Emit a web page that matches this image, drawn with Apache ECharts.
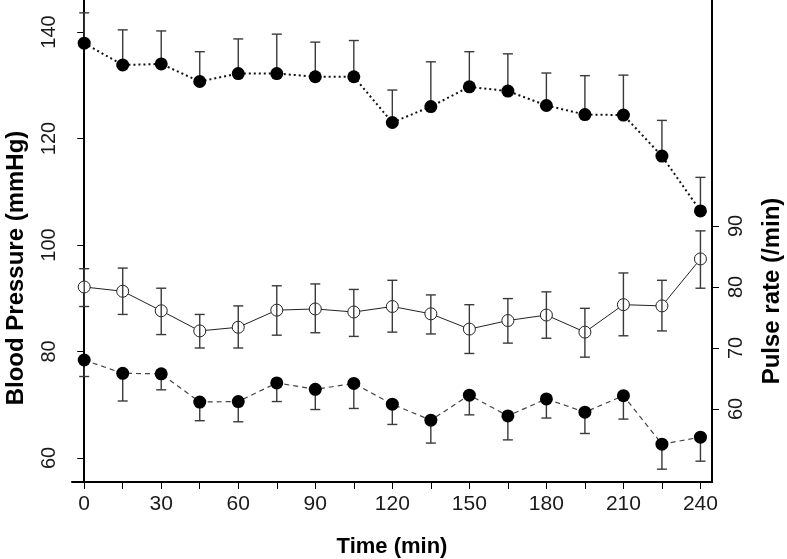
<!DOCTYPE html>
<html>
<head>
<meta charset="utf-8">
<script src="https://cdn.jsdelivr.net/npm/echarts@6/dist/echarts.min.js"></script>
<style>
html,body{margin:0;padding:0;background:#fff;}
#chart{width:787px;height:559px;}
</style>
</head>
<body>
<div id="chart"></div>
<script>
// ---- data ----
const times = [0,15,30,45,60,75,90,105,120,135,150,165,180,195,210,225,240];
const xTickValues = [0,15,30,45,60,75,90,105,120,135,150,165,180,195,210,225,240];
const xLabelValues = [0,30,60,90,120,150,180,210,240];
const bpTickValues = [60,80,100,120,140];
const pulseTickValues = [60,70,80,90];

// systolic blood pressure (mean and upper error)
const systolic      = [137.9,133.8,134.0,130.7,132.2,132.2,131.6,131.6,123.0,126.0,129.7,128.9,126.2,124.5,124.4,116.7,106.4];
const systolicUpper = [143.6,140.4,140.2,136.3,138.7,139.6,138.1,138.4,129.1,134.4,136.3,135.9,132.3,131.8,131.9,123.4,112.7];
// diastolic blood pressure (mean and lower error)
const diastolic      = [78.4,75.9,75.8,70.5,70.6,74.1,72.9,74.0,70.1,67.1,71.8,67.9,71.1,68.6,71.7,62.6,63.9];
const diastolicLower = [75.3,70.7,72.8,67.0,66.8,70.6,69.1,69.3,66.3,62.8,68.1,63.4,67.5,64.6,67.3,57.9,59.4];
// pulse rate (mean, upper, lower)
const pulse      = [80.0,79.3,76.1,72.8,73.4,76.2,76.4,75.9,76.8,75.6,73.1,74.5,75.4,72.6,77.1,76.9,84.6];
const pulseUpper = [83.0,83.1,79.8,75.5,76.9,80.2,80.5,79.6,81.1,78.7,77.1,78.1,79.2,76.5,82.3,81.1,89.2];
const pulseLower = [76.8,75.5,72.2,70.0,70.0,72.1,72.5,71.9,72.6,72.3,69.1,70.8,71.6,68.5,72.0,72.8,79.8];

const FONT = '"Liberation Sans", Arial, sans-serif';
const TXT = '#1a1a1a';

function pairs(xs, ys){ return xs.map((x,i)=>[x, ys[i]]); }
function errData(xs, a, b, capA, capB){ return xs.map((x,i)=>[x, a[i], b[i], capA, capB]); }

function errRender(params, api){
  const x = api.value(0);
  const p1 = api.coord([x, api.value(1)]);
  const p2 = api.coord([x, api.value(2)]);
  const hw = 5;
  const st = {stroke:'#3a3a3a', lineWidth:1.4};
  const ch = [{type:'line', shape:{x1:p1[0],y1:p1[1],x2:p2[0],y2:p2[1]}, style:st}];
  if (api.value(3)) ch.push({type:'line', shape:{x1:p1[0]-hw,y1:p1[1],x2:p1[0]+hw,y2:p1[1]}, style:st});
  if (api.value(4)) ch.push({type:'line', shape:{x1:p2[0]-hw,y1:p2[1],x2:p2[0]+hw,y2:p2[1]}, style:st});
  return {type:'group', children:ch};
}

const chart = echarts.init(document.getElementById('chart'), null, {renderer:'canvas'});
chart.setOption({
  animation:false,
  backgroundColor:'#fff',
  grid:{left:72, right:75, top:0, bottom:77},
  xAxis:{
    type:'value', min:-4.75, max:244.5,
    axisLine:{show:true, lineStyle:{color:'#000', width:2}},
    axisTick:{show:true, length:7, customValues:xTickValues, lineStyle:{color:'#000', width:1}},
    axisLabel:{customValues:xLabelValues, color:TXT, fontFamily:FONT, fontSize:21, margin:12},
    splitLine:{show:false}
  },
  yAxis:[
    {
      type:'value', position:'left', min:55.49, max:146.01,
      axisLine:{show:true, lineStyle:{color:'#000', width:2}},
      axisTick:{show:true, length:7, customValues:bpTickValues, lineStyle:{color:'#000', width:1}},
      axisLabel:{customValues:bpTickValues, rotate:90, color:TXT, fontFamily:FONT, fontSize:20, margin:13},
      splitLine:{show:false}
    },
    {
      type:'value', position:'right', min:48.03, max:127.05,
      axisLine:{show:true, lineStyle:{color:'#000', width:2}},
      axisTick:{show:true, length:7, customValues:pulseTickValues, lineStyle:{color:'#000', width:1}},
      axisLabel:{customValues:pulseTickValues, rotate:90, color:TXT, fontFamily:FONT, fontSize:20, margin:14},
      splitLine:{show:false}
    }
  ],
  graphic:[
    {type:'text', x:16, y:268, rotation:Math.PI/2,
     style:{text:'Blood Pressure (mmHg)', fill:'#000', font:'bold 24px '+FONT, textAlign:'center', textVerticalAlign:'middle'}},
    {type:'text', x:772, y:291, rotation:Math.PI/2,
     style:{text:'Pulse rate (/min)', fill:'#000', font:'bold 24px '+FONT, textAlign:'center', textVerticalAlign:'middle'}},
    {type:'text', x:392, y:547,
     style:{text:'Time (min)', fill:'#000', font:'bold 22px '+FONT, textAlign:'center', textVerticalAlign:'middle'}}
  ],
  series:[
    {type:'custom', yAxisIndex:0, renderItem:errRender, data:errData(times, systolic, systolicUpper, 0, 1), z:1, silent:true},
    {type:'custom', yAxisIndex:0, renderItem:errRender, data:errData(times, diastolicLower, diastolic, 1, 0), z:1, silent:true},
    {type:'custom', yAxisIndex:1, renderItem:errRender, data:errData(times, pulseLower, pulseUpper, 1, 1), z:4, silent:true},
    {type:'line', yAxisIndex:0, data:pairs(times, systolic), z:3,
     symbol:'circle', symbolSize:13, itemStyle:{color:'#000'},
     lineStyle:{color:'#111', width:2, type:[2,3]}},
    {type:'line', yAxisIndex:0, data:pairs(times, diastolic), z:3,
     symbol:'circle', symbolSize:13, itemStyle:{color:'#000'},
     lineStyle:{color:'#444', width:1.2, type:[5,4]}},
    {type:'line', yAxisIndex:1, data:pairs(times, pulse), z:3,
     symbol:'circle', symbolSize:12, itemStyle:{color:'#fff', borderColor:'#222', borderWidth:1},
     lineStyle:{color:'#222', width:1}}
  ]
});
</script>
</body>
</html>
